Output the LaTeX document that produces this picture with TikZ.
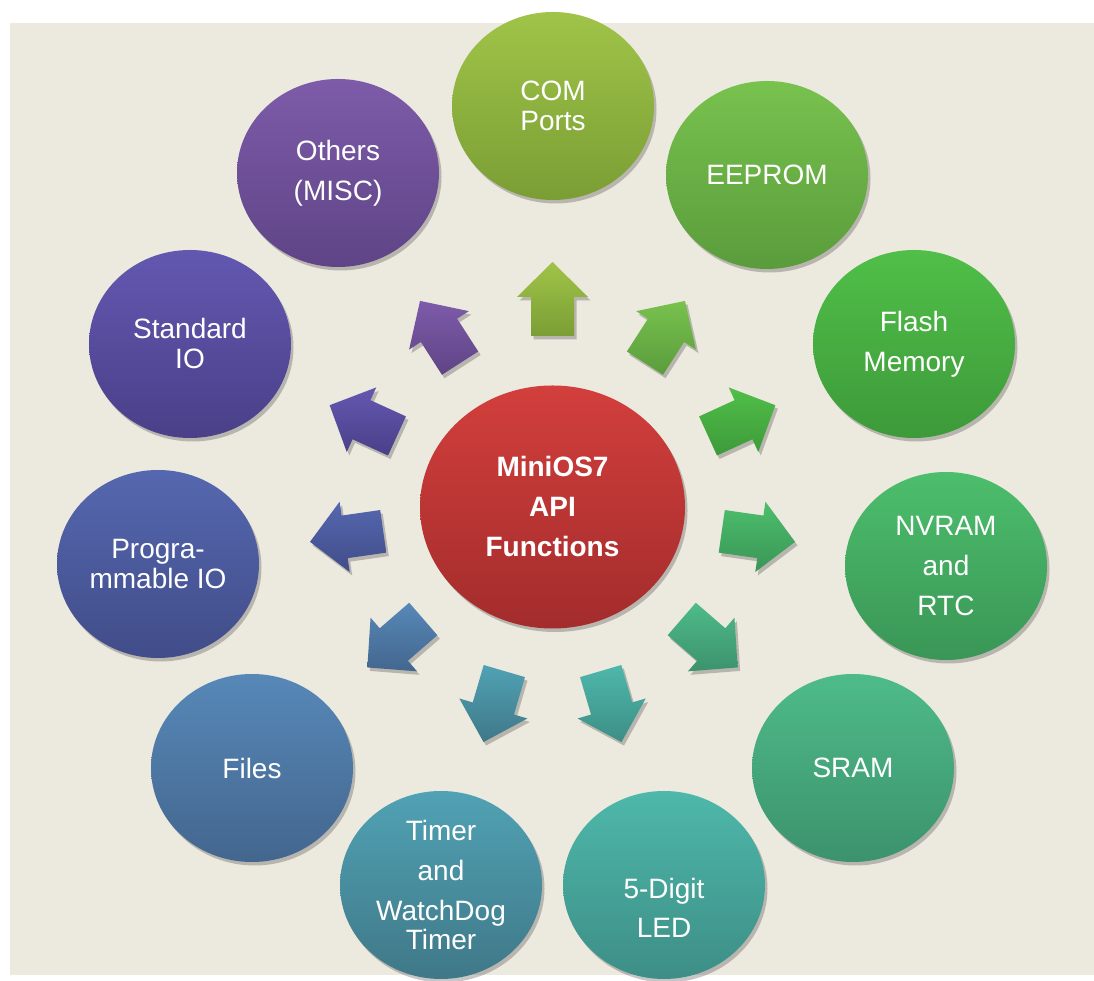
\documentclass[tikz,border=0pt]{standalone}
\usepackage{fontspec}
\setmainfont{Liberation Sans}
\usetikzlibrary{shapes.geometric,shadows,calc}
\definecolor{bgcol}{HTML}{ECE9DF}
\definecolor{cAt}{HTML}{A0C448}\definecolor{cAb}{HTML}{7A9E34}
\definecolor{cBt}{HTML}{78C24E}\definecolor{cBb}{HTML}{5A9C3C}
\definecolor{cCt}{HTML}{50BF48}\definecolor{cCb}{HTML}{3D9A3A}
\definecolor{cDt}{HTML}{4CBE6C}\definecolor{cDb}{HTML}{3A9656}
\definecolor{cEt}{HTML}{4EBB8A}\definecolor{cEb}{HTML}{3C926C}
\definecolor{cFt}{HTML}{4EB8AA}\definecolor{cFb}{HTML}{3D8E86}
\definecolor{cGt}{HTML}{50A2B4}\definecolor{cGb}{HTML}{3F7888}
\definecolor{cHt}{HTML}{5788B8}\definecolor{cHb}{HTML}{43668E}
\definecolor{cIt}{HTML}{5567AF}\definecolor{cIb}{HTML}{414D89}
\definecolor{cJt}{HTML}{6358B0}\definecolor{cJb}{HTML}{4A3F88}
\definecolor{cKt}{HTML}{7D5BA9}\definecolor{cKb}{HTML}{5F4486}
\definecolor{cMt}{HTML}{D23F3C}\definecolor{cMb}{HTML}{A32C2C}
\newcommand{\blockarrow}[3]{%
  \begin{scope}[shift={(ctr)}, rotate=#1]
    \path[arrowshape, top color=#2, bottom color=#3]
      (171,-21.5) -- (210,-21.5) -- (210,-35.5) -- (245,0) -- (210,35.5) -- (210,21.5) -- (171,21.5) -- cycle;
  \end{scope}}
\begin{document}
\begin{tikzpicture}[x=1pt,y=1pt,
  shade/.append style={},
  softshadow/.style={drop shadow={shadow xshift=2.5pt, shadow yshift=-3.5pt, opacity=0.22, fill=black}},
  bubble/.style={ellipse, inner sep=0pt, minimum width=202pt, minimum height=188pt,
    text=white, align=center, font=\fontsize{28}{40}\selectfont, softshadow},
  tight/.style={font=\fontsize{28}{30}\selectfont},
  hub/.style={ellipse, inner sep=0pt, minimum width=265pt, minimum height=243pt,
    text=white, align=center, font=\bfseries\fontsize{28}{40}\selectfont, softshadow},
  arrowshape/.style={softshadow}]
\useasboundingbox (0,0) rectangle (1094,981);
\fill[bgcol] (10,6) rectangle (1094,958);
\coordinate (ctr) at (552.5,474);
% arrows
\blockarrow{90}{cAt}{cAb}
\blockarrow{57.27}{cBt}{cBb}
\blockarrow{24.55}{cCt}{cCb}
\blockarrow{-8.18}{cDt}{cDb}
\blockarrow{-40.91}{cEt}{cEb}
\blockarrow{-73.64}{cFt}{cFb}
\blockarrow{-106.36}{cGt}{cGb}
\blockarrow{-139.09}{cHt}{cHb}
\blockarrow{-171.82}{cIt}{cIb}
\blockarrow{155.45}{cJt}{cJb}
\blockarrow{122.73}{cKt}{cKb}
% centre
\node[hub, top color=cMt, bottom color=cMb] (hub) at (ctr) {MiniOS7\\API\\Functions};
% outer bubbles
\node[bubble, tight, top color=cAt, bottom color=cAb] (com) at (553,875) {COM\\Ports};
\node[bubble, top color=cBt, bottom color=cBb] (eeprom) at (767,806) {EEPROM};
\node[bubble, top color=cCt, bottom color=cCb] (flash) at (914,637) {Flash\\Memory};
\node[bubble, top color=cDt, bottom color=cDb] (nvram) at (946,415) {NVRAM\\and\\RTC};
\node[bubble, top color=cEt, bottom color=cEb] (sram) at (853,213) {SRAM};
\node[bubble, top color=cFt, bottom color=cFb] (led) at (664,96) {};
\node[text=white, align=center, font=\fontsize{28}{39}\selectfont] (ledtext) at (664,73) {5-Digit\\LED};
\node[bubble, top color=cGt, bottom color=cGb] (timer) at (441,96) {Timer\\and\\WatchDog\\[-11pt]Timer};
\node[bubble, top color=cHt, bottom color=cHb] (files) at (252,213) {Files};
\node[bubble, tight, top color=cIt, bottom color=cIb] (pio) at (158,417) {Progra-\\mmable IO};
\node[bubble, tight, top color=cJt, bottom color=cJb] (stdio) at (190,637) {Standard\\IO};
\node[bubble, top color=cKt, bottom color=cKb] (misc) at (338,808) {Others\\(MISC)};
\end{tikzpicture}
\end{document}
